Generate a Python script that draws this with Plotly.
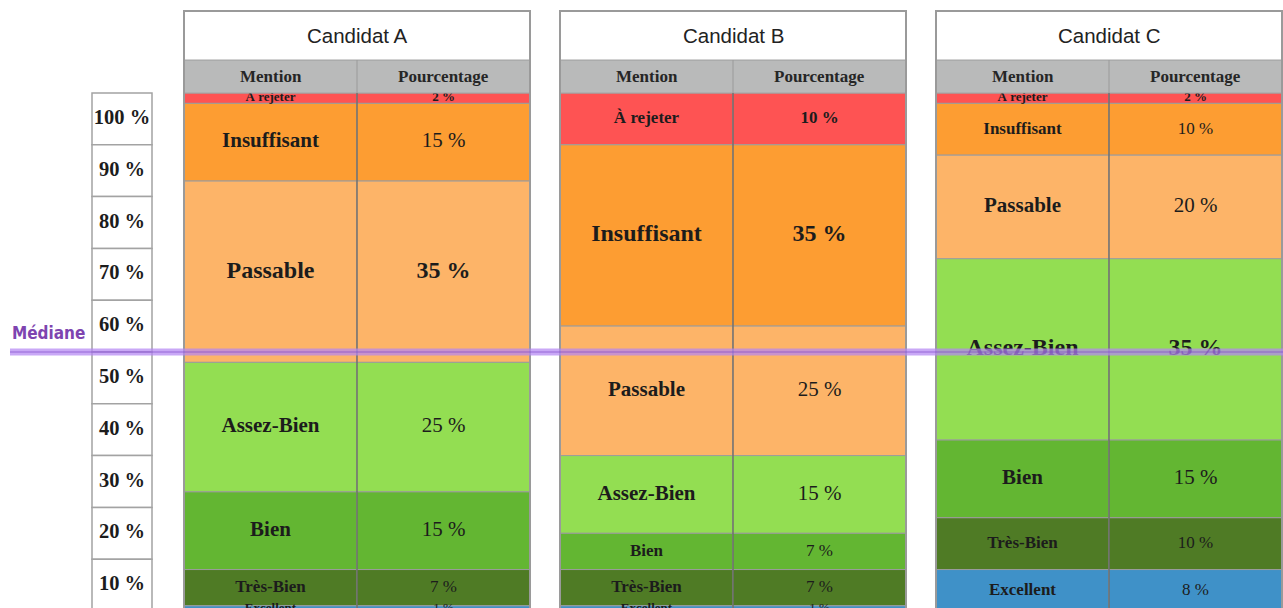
import numpy as np
import plotly.graph_objects as go

# ---- data -------------------------------------------------------------
mentions = ["À rejeter", "Insuffisant", "Passable", "Assez-Bien", "Bien", "Très-Bien", "Excellent"]
candidates = ["Candidat A", "Candidat B", "Candidat C"]
pct_a = [2, 15, 35, 25, 15, 7, 1]
pct_b = [10, 35, 25, 15, 7, 7, 1]
pct_c = [2, 10, 20, 35, 15, 10, 8]
column_headers = ["Mention", "Pourcentage"]
scale_labels = ["100 %", "90 %", "80 %", "70 %", "60 %", "50 %", "40 %", "30 %", "20 %", "10 %"]
scale_step = [10] * 10
median_level = 50
median_label = "Médiane"

# ---- styles -----------------------------------------------------------
mention_colors = {
    "À rejeter": "#fe5353",
    "Insuffisant": "#fd9d32",
    "Passable": "#fdb468",
    "Assez-Bien": "#93de52",
    "Bien": "#63b632",
    "Très-Bien": "#4f7b25",
    "Excellent": "#3f91c8",
}
SERIF = "Liberation Serif, Times New Roman, serif"
SANS = "Liberation Sans, Arial, sans-serif"
TEXT = "#1c1c1c"
GRID = "#9c9c9c"

# ---- geometry (x in screen-like units, y in percent) -------------------
W, H = 1283, 608
table_left = [184, 560, 936]
col_w = 173
scale_left, scale_w = 92, 60
px_per_pct = 5.18
top_px = 93
y_top = 100 + top_px / px_per_pct
y_bot = 100 - (H - top_px) / px_per_pct
header_h = 33 / px_per_pct
title_h = 49 / px_per_pct
title_top = 100 + header_h + title_h


def label_size(v):
    if v >= 35:
        return 24
    if v >= 15:
        return 21
    if v >= 7:
        return 17
    return 13


series = [pct_a, pct_b, pct_c]
fig = go.Figure()

# stacked rows, drawn per mention across the three tables
bases = [np.sum(v) - np.cumsum(v) for v in series]
text_x, text_y, text_s, text_sz = [], [], [], []
for i, m in enumerate(mentions):
    xs, ys, bs = [], [], []
    for k, vals in enumerate(series):
        v = vals[i]
        b = bases[k][i]
        for j in range(2):
            xc = table_left[k] + col_w * (j + 0.5)
            xs.append(xc)
            ys.append(v)
            bs.append(b)
            text_x.append(xc)
            text_y.append(b + v / 2)
            if j == 0:
                text_s.append(f"<b>{m}</b>")
            else:
                lbl = f"{v} %"
                text_s.append(f"<b>{lbl}</b>" if (v >= 35 or i == 0) else lbl)
            text_sz.append(label_size(v))
    fig.add_trace(go.Bar(
        x=xs, y=ys, base=bs, width=col_w,
        marker=dict(color=mention_colors[m], line=dict(color=GRID, width=1)),
        hoverinfo="skip", showlegend=False,
    ))

fig.add_trace(go.Scatter(
    x=text_x, y=text_y, text=text_s, mode="text",
    textfont=dict(family=SERIF, size=text_sz, color=TEXT),
    hoverinfo="skip", showlegend=False,
))

# percentage scale on the left
scale_base = np.sum(scale_step) - np.cumsum(scale_step)
sx = [scale_left + scale_w / 2] * len(scale_step)
fig.add_trace(go.Bar(
    x=sx, y=scale_step, base=scale_base, width=scale_w,
    marker=dict(color="white", line=dict(color="#a3a3a3", width=1.5)),
    hoverinfo="skip", showlegend=False,
))
fig.add_trace(go.Scatter(
    x=sx, y=scale_base + np.array(scale_step) / 2,
    text=[f"<b>{s}</b>" for s in scale_labels], mode="text",
    textfont=dict(family=SERIF, size=20.5, color=TEXT),
    hoverinfo="skip", showlegend=False,
))

shapes, annotations = [], []
for k, name in enumerate(candidates):
    x0 = table_left[k]
    x1 = x0 + 2 * col_w
    xm = x0 + col_w
    # column header band
    shapes.append(dict(type="rect", xref="x", yref="y", x0=x0, x1=x1, y0=100, y1=100 + header_h,
                       fillcolor="#b9baba", line=dict(color="#a5a5a5", width=1), layer="above"))
    # title box
    shapes.append(dict(type="rect", xref="x", yref="y", x0=x0, x1=x1, y0=100 + header_h, y1=title_top,
                       fillcolor="white", line=dict(color="#a5a5a5", width=1), layer="above"))
    # column divider
    shapes.append(dict(type="line", xref="x", yref="y", x0=xm, x1=xm, y0=y_bot - 2, y1=100,
                       line=dict(color="#5a5a5a", width=1), layer="above"))
    shapes.append(dict(type="line", xref="x", yref="y", x0=xm, x1=xm, y0=100, y1=100 + header_h,
                       line=dict(color="#9a9a9a", width=1), layer="above"))
    # outer frame
    shapes.append(dict(type="rect", xref="x", yref="y", x0=x0, x1=x1, y0=y_bot - 2, y1=title_top,
                       line=dict(color="#9a9a9a", width=2), layer="above"))
    annotations.append(dict(x=(x0 + x1) / 2, y=100 + header_h + title_h / 2, xref="x", yref="y",
                            text=name, showarrow=False,
                            font=dict(family=SANS, size=20.5, color="#222222")))
    for j, hdr in enumerate(column_headers):
        annotations.append(dict(x=x0 + col_w * (j + 0.5), y=100 + header_h / 2, xref="x", yref="y",
                                text=f"<b>{hdr}</b>", showarrow=False,
                                font=dict(family=SERIF, size=17, color="#262626")))

# median marker across the whole chart
shapes.append(dict(type="line", xref="x", yref="y", x0=10, x1=W, y0=median_level, y1=median_level,
                   line=dict(color="rgba(180,135,242,0.72)", width=7), layer="above"))
shapes.append(dict(type="line", xref="x", yref="y", x0=10, x1=W, y0=median_level, y1=median_level,
                   line=dict(color="rgba(125,70,200,0.45)", width=1.5), layer="above"))
annotations.append(dict(x=48, y=median_level + 3.6, xref="x", yref="y",
                        text=f"<b>{median_label}</b>", showarrow=False,
                        font=dict(family="DejaVu Sans Condensed, DejaVu Sans, sans-serif",
                                  size=17, color="#7e44b0")))

fig.update_layout(
    width=W, height=H,
    margin=dict(l=0, r=0, t=0, b=0),
    paper_bgcolor="white", plot_bgcolor="white",
    barmode="overlay",
    xaxis=dict(range=[0, W], visible=False, fixedrange=True),
    yaxis=dict(range=[y_bot, y_top], visible=False, fixedrange=True),
    shapes=shapes, annotations=annotations,
    showlegend=False,
)

fig.write_html("out.html")
